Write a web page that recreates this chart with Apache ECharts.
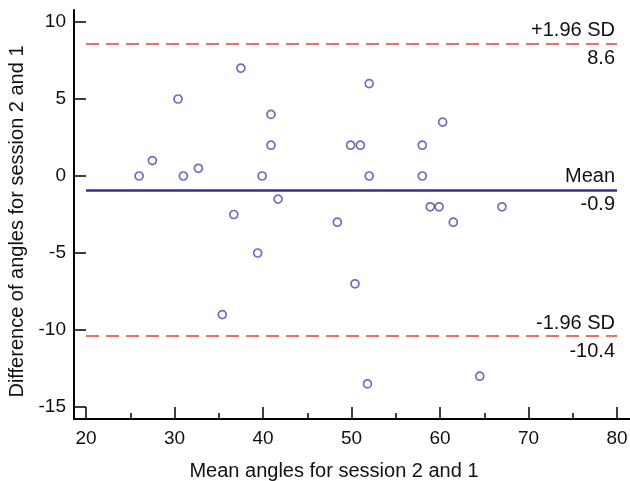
<!DOCTYPE html>
<html>
<head>
<meta charset="utf-8">
<script src="https://cdn.jsdelivr.net/npm/echarts@6/dist/echarts.min.js"></script>
<style>html,body{margin:0;padding:0;background:#fff}#c{width:630px;height:481px}</style>
</head>
<body>
<div id="c"></div>
<script>
var meanAngles = [26.0, 27.5, 30.4, 31.0, 32.7, 37.5, 40.9, 40.9, 39.9, 41.7, 36.7, 49.9, 48.4, 39.4, 35.4, 50.4, 52.0, 60.3, 51.0, 58.0, 52.0, 58.0, 58.9, 59.9, 67.0, 61.5, 51.8, 64.5];
var differences = [0.0, 1.0, 5.0, 0.0, 0.5, 7.0, 4.0, 2.0, 0.0, -1.5, -2.5, 2.0, -3.0, -5.0, -9.0, -7.0, 6.0, 3.5, 2.0, 2.0, 0.0, 0.0, -2.0, -2.0, -2.0, -3.0, -13.5, -13.0];
var meanDiff = -0.9;
var upperLimit = 8.6;
var lowerLimit = -10.4;
var xTicks = [20, 30, 40, 50, 60, 70, 80];
var yTicks = [-15, -10, -5, 0, 5, 10];

var FONT = '"Liberation Sans", Arial, sans-serif';
var chart = echarts.init(document.getElementById('c'), null, {renderer: 'canvas'});
var pts = meanAngles.map(function (x, i) { return [x, differences[i]]; });

function twoLabels(v, topText, lineStyle) {
  return [
    {yAxis: v, lineStyle: lineStyle,
      label: {show: true, position: 'insideEndTop', formatter: topText, distance: [2, 3]}},
    {yAxis: v, lineStyle: {color: 'rgba(0,0,0,0)', width: 0},
      label: {show: true, position: 'insideEndBottom', formatter: String(v), distance: [2, 5], color: '#111'}}
  ];
}

var redStyle = {color: '#e2403c', width: 1.5, type: [13, 7]};
var blueStyle = {color: '#2e3192', width: 2.5, type: 'solid'};

chart.setOption({
  animation: false,
  backgroundColor: '#ffffff',
  textStyle: {fontFamily: FONT},
  grid: [
    {left: 74, right: 0, top: 10, bottom: 62, containLabel: false, outerBoundsMode: 'none'},
    {left: 86, right: 13, top: 22, bottom: 74, containLabel: false, outerBoundsMode: 'none'}
  ],
  xAxis: [
    {gridIndex: 0, type: 'value', min: 0, max: 1, axisLine: {show: true, onZero: false, lineStyle: {color: '#000', width: 2}},
      axisTick: {show: false}, axisLabel: {show: false}, splitLine: {show: false}},
    {gridIndex: 1, type: 'value', min: xTicks[0], max: xTicks[xTicks.length - 1], interval: 10, offset: 12,
      axisLine: {show: false, onZero: false},
      axisTick: {show: true, inside: true, length: 12, lineStyle: {color: '#000', width: 1.5}},
      minorTick: {show: true, splitNumber: 2, length: 6, lineStyle: {color: '#000', width: 1.5}},
      axisLabel: {show: true, margin: 10, fontSize: 19, color: '#111', fontFamily: FONT,
        alignMinLabel: 'center', alignMaxLabel: 'center'},
      splitLine: {show: false},
      name: 'Mean angles for session 2 and 1', nameLocation: 'middle', nameGap: 42,
      nameTextStyle: {fontSize: 20, color: '#111', fontFamily: FONT, padding: [0, 35, 0, 0]}}
  ],
  yAxis: [
    {gridIndex: 0, type: 'value', min: 0, max: 1, axisLine: {show: true, onZero: false, lineStyle: {color: '#000', width: 2}},
      axisTick: {show: false}, axisLabel: {show: false}, splitLine: {show: false}},
    {gridIndex: 1, type: 'value', min: yTicks[0], max: yTicks[yTicks.length - 1], interval: 5, offset: 12,
      axisLine: {show: false, onZero: false},
      axisTick: {show: true, inside: true, length: 12, lineStyle: {color: '#000', width: 1.5}},
      axisLabel: {show: true, margin: 8, fontSize: 19, color: '#111', fontFamily: FONT,
        verticalAlignMinLabel: 'middle', verticalAlignMaxLabel: 'middle'},
      splitLine: {show: false},
      name: 'Difference of angles for session 2 and 1', nameLocation: 'middle', nameGap: 45,
      nameTextStyle: {fontSize: 20, color: '#111', fontFamily: FONT, padding: [0, 14, 0, 0]}}
  ],
  series: [{
    type: 'scatter',
    xAxisIndex: 1, yAxisIndex: 1,
    data: pts,
    symbol: 'circle',
    symbolSize: 8,
    itemStyle: {color: '#ffffff', borderColor: '#4a4ab2', borderWidth: 1.7},
    z: 5,
    markLine: {
      silent: true,
      symbol: 'none',
      animation: false,
      label: {fontSize: 20, color: '#111', fontFamily: FONT},
      data: [].concat(
        twoLabels(upperLimit, '+1.96 SD', redStyle),
        twoLabels(meanDiff, 'Mean', blueStyle),
        twoLabels(lowerLimit, '-1.96 SD', redStyle)
      )
    }
  }]
});
</script>
</body>
</html>
